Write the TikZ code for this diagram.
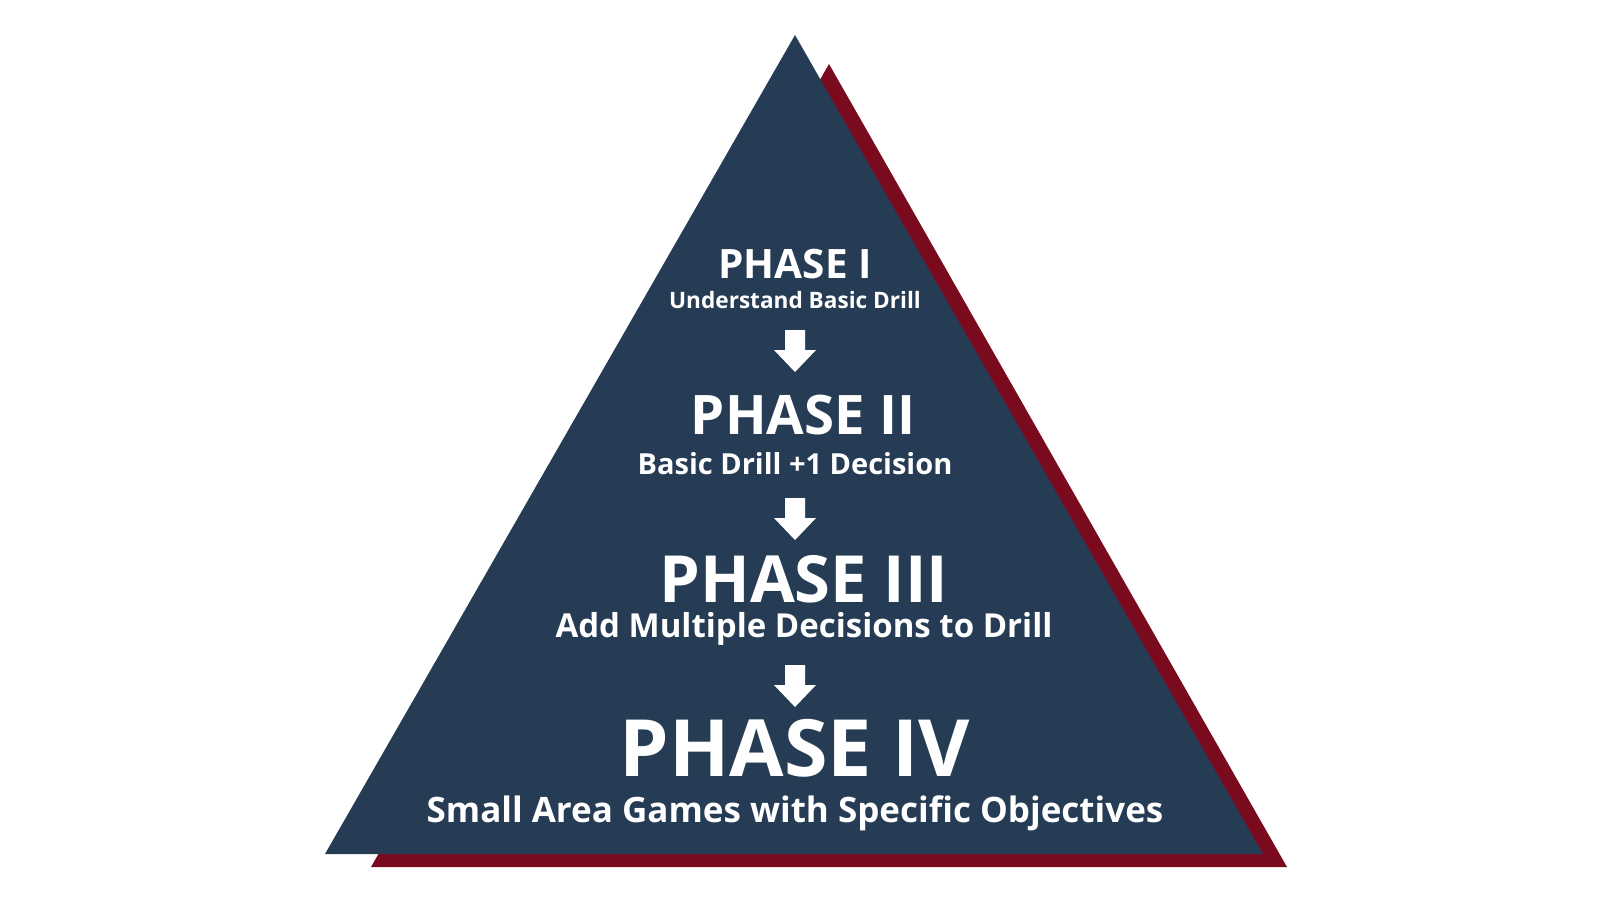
\documentclass[tikz,border=0pt]{standalone}
\usepackage{fontspec}
\setmainfont{Open Sans}
\definecolor{navy}{HTML}{263C55}
\definecolor{wine}{HTML}{7A0A1E}
\begin{document}
\begin{tikzpicture}[x=1pt,y=-1pt,
  txt/.style={text=white,font=\bfseries,inner sep=0pt,anchor=center},
  arr/.style={fill=white}]
\useasboundingbox (0,0) rectangle (1600,900);
\fill[wine] (829,64) -- (1287,867) -- (371,867) -- cycle;
\fill[navy] (795,35) -- (1263,854) -- (325,854) -- cycle;
\node[txt,font=\bfseries\fontsize{40.5}{40}\selectfont] (p1) at (795,264) {PHASE I};
\node[txt,font=\bfseries\fontsize{22.6}{22}\selectfont] (s1) at (795,300) {Understand Basic Drill};
\node[txt,font=\bfseries\fontsize{54.5}{54}\selectfont] (p2) at (803,415) {PHASE II};
\node[txt,font=\bfseries\fontsize{29}{29}\selectfont] (s2) at (795,464) {Basic Drill +1 Decision};
\node[txt,font=\bfseries\fontsize{65}{65}\selectfont] (p3) at (804,579) {PHASE III};
\node[txt,font=\bfseries\fontsize{33}{33}\selectfont] (s3) at (804,629) {Add Multiple Decisions to Drill};
\node[txt,font=\bfseries\fontsize{79}{79}\selectfont] (p4) at (795,748) {PHASE IV};
\node[txt,font=\bfseries\fontsize{35}{35}\selectfont] (s4) at (795,813) {Small Area Games with Specific Objectives};
\foreach \y in {330,498,665}{
  \fill[white] (785,\y) -- (805,\y) -- (805,\y+20) -- (816,\y+20) -- (795,\y+42) -- (774,\y+20) -- (785,\y+20) -- cycle;
}
\end{tikzpicture}
\end{document}
